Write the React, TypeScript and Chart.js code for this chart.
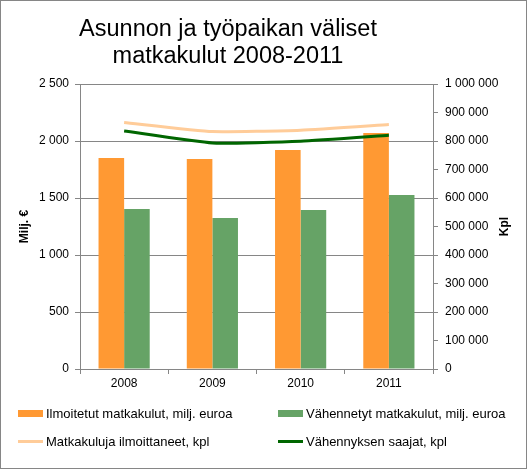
import React, { useRef, useEffect } from 'react';
import { Chart, registerables } from 'chart.js';

Chart.register(...registerables);

const years = ['2008', '2009', '2010', '2011'];
const reportedCosts = [1851, 1842, 1921, 2070]; // milj. euroa
const deductedCosts = [1404, 1325, 1395, 1526]; // milj. euroa
const reporters = [865000, 833000, 838000, 858000]; // kpl
const recipients = [835000, 793000, 799000, 820000]; // kpl

const labels = {
  reportedCosts: 'Ilmoitetut matkakulut, milj. euroa',
  deductedCosts: 'Vähennetyt matkakulut, milj. euroa',
  reporters: 'Matkakuluja ilmoittaneet, kpl',
  recipients: 'Vähennyksen saajat, kpl',
};

const colors = {
  orange: '#FF9933',
  green: '#66A366',
  lightOrange: '#FFCC99',
  darkGreen: '#006600',
};

const FONT = '"Liberation Sans", Arial, sans-serif';
const GRID = '#868686';

// space as thousands separator, e.g. "1 000 000"
const fmt = (v: number) => String(Math.round(v)).replace(/\B(?=(\d{3})+(?!\d))/g, ' ');

const axisTitles = {
  id: 'axisTitles',
  afterDraw(chart: Chart) {
    const { ctx, chartArea } = chart;
    const midY = (chartArea.top + chartArea.bottom) / 2;
    const draw = (text: string, x: number) => {
      ctx.save();
      ctx.font = `bold 12px ${FONT}`;
      ctx.fillStyle = '#000';
      ctx.textAlign = 'center';
      ctx.textBaseline = 'middle';
      ctx.translate(x, midY);
      ctx.rotate(-Math.PI / 2);
      ctx.fillText(text, 0, 0);
      ctx.restore();
    };
    draw('Milj. €', 25);
    draw('Kpl', 505);
  },
};

const legendItems = [
  { label: labels.reportedCosts, color: colors.orange, kind: 'bar' },
  { label: labels.deductedCosts, color: colors.green, kind: 'bar' },
  { label: labels.reporters, color: colors.lightOrange, kind: 'line' },
  { label: labels.recipients, color: colors.darkGreen, kind: 'line' },
];

const App: React.FC = () => {
  const chartRef = useRef<HTMLCanvasElement>(null);
  const chartInstance = useRef<Chart | null>(null);

  useEffect(() => {
    if (!chartRef.current) return;
    if (chartInstance.current) chartInstance.current.destroy();
    const ctx = chartRef.current.getContext('2d');
    if (!ctx) return;

    chartInstance.current = new Chart(ctx, {
      type: 'bar',
      data: {
        labels: years,
        datasets: [
          {
            type: 'line',
            label: labels.reporters,
            data: reporters,
            yAxisID: 'y1',
            borderColor: colors.lightOrange,
            borderWidth: 3,
            pointRadius: 0,
            tension: 0.15,
            order: 1,
          },
          {
            type: 'line',
            label: labels.recipients,
            data: recipients,
            yAxisID: 'y1',
            borderColor: colors.darkGreen,
            borderWidth: 3,
            pointRadius: 0,
            tension: 0.15,
            order: 1,
          },
          {
            label: labels.reportedCosts,
            data: reportedCosts,
            yAxisID: 'y',
            backgroundColor: colors.orange,
            categoryPercentage: 0.58,
            barPercentage: 1,
            order: 2,
          },
          {
            label: labels.deductedCosts,
            data: deductedCosts,
            yAxisID: 'y',
            backgroundColor: colors.green,
            categoryPercentage: 0.58,
            barPercentage: 1,
            order: 2,
          },
        ],
      },
      options: {
        responsive: true,
        maintainAspectRatio: false,
        animation: false,
        layout: { padding: { top: 84, bottom: 70, left: 0, right: 0 } },
        plugins: {
          legend: { display: false },
          title: { display: false },
          tooltip: { enabled: false },
        },
        scales: {
          x: {
            grid: { display: true, drawOnChartArea: false, color: GRID, tickLength: 5 },
            border: { color: GRID },
            ticks: { color: '#000', font: { family: FONT, size: 12 }, padding: 2 },
            afterFit: (scale: any) => {
              scale.height = 30;
            },
          },
          y: {
            position: 'left',
            min: 0,
            max: 2500,
            grid: { color: GRID, tickLength: 5 },
            border: { color: GRID },
            ticks: {
              stepSize: 500,
              color: '#000',
              font: { family: FONT, size: 12 },
              padding: 6,
              callback: (v: any) => fmt(Number(v)),
            },
            afterFit: (scale: any) => {
              scale.width = 80;
            },
          },
          y1: {
            position: 'right',
            min: 0,
            max: 1000000,
            grid: { drawOnChartArea: false, color: GRID, tickLength: 5 },
            border: { color: GRID },
            ticks: {
              stepSize: 100000,
              color: '#000',
              font: { family: FONT, size: 12 },
              padding: 7,
              callback: (v: any) => fmt(Number(v)),
            },
            afterFit: (scale: any) => {
              scale.width = 94;
            },
          },
        },
      },
      plugins: [axisTitles],
    });

    return () => {
      if (chartInstance.current) {
        chartInstance.current.destroy();
        chartInstance.current = null;
      }
    };
  }, []);

  return (
    <div style={{ position: 'fixed', left: 0, top: 0, width: 527, height: 469, background: '#fff', fontFamily: FONT }}>
      <canvas ref={chartRef} />
      <div
        style={{
          position: 'absolute',
          left: 228,
          top: 15,
          transform: 'translateX(-50%)',
          textAlign: 'center',
          fontSize: 23.5,
          lineHeight: '27px',
          whiteSpace: 'nowrap',
          color: '#000',
        }}
      >
        Asunnon ja työpaikan väliset
        <br />
        matkakulut 2008-2011
      </div>
      {legendItems.map((item, i) => (
        <div
          key={item.label}
          style={{
            position: 'absolute',
            left: i % 2 === 0 ? 18 : 278,
            top: i < 2 ? 404 : 432,
            height: 18,
            display: 'flex',
            alignItems: 'center',
            fontSize: 13,
            whiteSpace: 'nowrap',
            color: '#000',
          }}
        >
          <span
            style={{
              display: 'inline-block',
              width: 25,
              height: item.kind === 'bar' ? 7 : 3,
              background: item.color,
              marginRight: 3,
            }}
          />
          {item.label}
        </div>
      ))}
      <div style={{ position: 'absolute', inset: 0, border: `1px solid ${GRID}`, pointerEvents: 'none' }} />
    </div>
  );
};

export default App;
